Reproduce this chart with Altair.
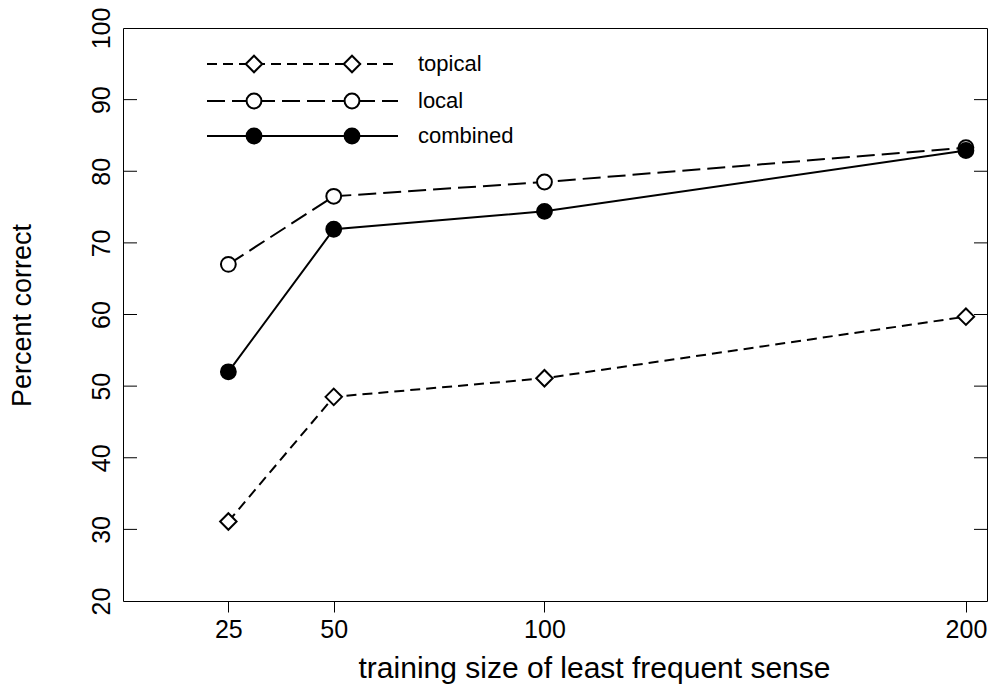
import altair as alt
import pandas as pd

# ---- data ----
sizes = [25, 50, 100, 200]
series_names = ["topical", "local", "combined"]
topical = [31.1, 48.5, 51.1, 59.7]
local = [67.0, 76.5, 78.5, 83.3]
combined = [52.0, 71.9, 74.4, 82.9]
x_ticks = [25, 50, 100, 200]
y_ticks = [20, 30, 40, 50, 60, 70, 80, 90, 100]

FONT = "Liberation Sans"
W, H = 864, 573

rows = []
for name, vals in zip(series_names, [topical, local, combined]):
    for s, v in zip(sizes, vals):
        rows.append({"series": name, "size": s, "pct": v})
df = pd.DataFrame(rows)

xscale = alt.Scale(domain=[0, 205], nice=False, zero=False)
yscale = alt.Scale(domain=[20, 100], nice=False, zero=False)

xaxis = alt.Axis(
    values=x_ticks, grid=False, domain=False,
    tickSize=11, tickColor="black", tickWidth=1,
    labelFont=FONT, labelFontSize=25, labelColor="black", labelPadding=5,
    title="training size of least frequent sense",
    titleFont=FONT, titleFontSize=30, titleFontWeight="normal", titleColor="black",
    titleX=471, titleY=76, titleBaseline="alphabetic", titleAlign="center",
)
yaxis = alt.Axis(
    values=y_ticks, grid=False, domain=False, ticks=False, tickSize=0,
    labelAngle=270, labelAlign="center", labelBaseline="bottom", labelPadding=9,
    labelFont=FONT, labelFontSize=25, labelColor="black",
    title="Percent correct",
    titleFont=FONT, titleFontSize=27, titleFontWeight="normal", titleColor="black",
    titleAngle=270, titleX=-93, titleY=287, titleBaseline="alphabetic", titleAlign="center",
)

styles = {
    "topical": dict(dash=[10, 6], shape="diamond", fill="white", size=270),
    "local": dict(dash=[18, 7], shape="circle", fill="white", size=220),
    "combined": dict(dash=None, shape="circle", fill="black", size=220),
}

base = alt.Chart(df).encode(
    x=alt.X("size:Q", scale=xscale, axis=xaxis),
    y=alt.Y("pct:Q", scale=yscale, axis=yaxis),
)

layers = []
for name in series_names:
    st = styles[name]
    line_kw = dict(color="black", strokeWidth=2)
    if st["dash"]:
        line_kw["strokeDash"] = st["dash"]
    layers.append(
        base.transform_filter(alt.datum.series == name).mark_line(**line_kw)
    )
for name in series_names:
    st = styles[name]
    layers.append(
        base.transform_filter(alt.datum.series == name).mark_point(
            shape=st["shape"], size=st["size"], filled=True,
            fill=st["fill"], stroke="black", strokeWidth=2, opacity=1,
        )
    )

# inward ticks on left and right frame edges
tick_df = pd.DataFrame({"pct": y_ticks[1:-1]})
for x0, x1 in [(0, 14), (W - 13, W)]:
    layers.append(
        alt.Chart(tick_df).mark_rule(color="black", strokeWidth=1).encode(
            y=alt.Y("pct:Q", scale=yscale, axis=yaxis),
            x=alt.value(x0), x2=alt.value(x1),
        )
    )

# manual legend (R style: line with two markers + label)
leg_y = [36, 73, 108]
for name, ly in zip(series_names, leg_y):
    st = styles[name]
    rule_kw = dict(color="black", strokeWidth=2)
    if st["dash"]:
        rule_kw["strokeDash"] = st["dash"]
    ldf = pd.DataFrame({"series": [name]})
    layers.append(
        alt.Chart(ldf).mark_rule(**rule_kw).encode(
            x=alt.value(84), x2=alt.value(275), y=alt.value(ly)
        )
    )
    for mx in (131, 229):
        layers.append(
            alt.Chart(ldf).mark_point(
                shape=st["shape"], size=st["size"], filled=True,
                fill=st["fill"], stroke="black", strokeWidth=2, opacity=1,
            ).encode(x=alt.value(mx), y=alt.value(ly))
        )
    layers.append(
        alt.Chart(ldf).mark_text(
            font=FONT, fontSize=22, color="black", align="left", baseline="middle"
        ).encode(x=alt.value(295), y=alt.value(ly), text="series:N")
    )

chart = alt.layer(*layers).properties(
    width=W, height=H,
    padding={"left": 123, "top": 28, "right": 12, "bottom": 83},
    autosize=alt.AutoSizeParams(type="none"),
    background="white",
).configure_view(stroke="black", strokeWidth=1)

chart.save("out.html", embed_options={"renderer": "svg", "actions": False})
